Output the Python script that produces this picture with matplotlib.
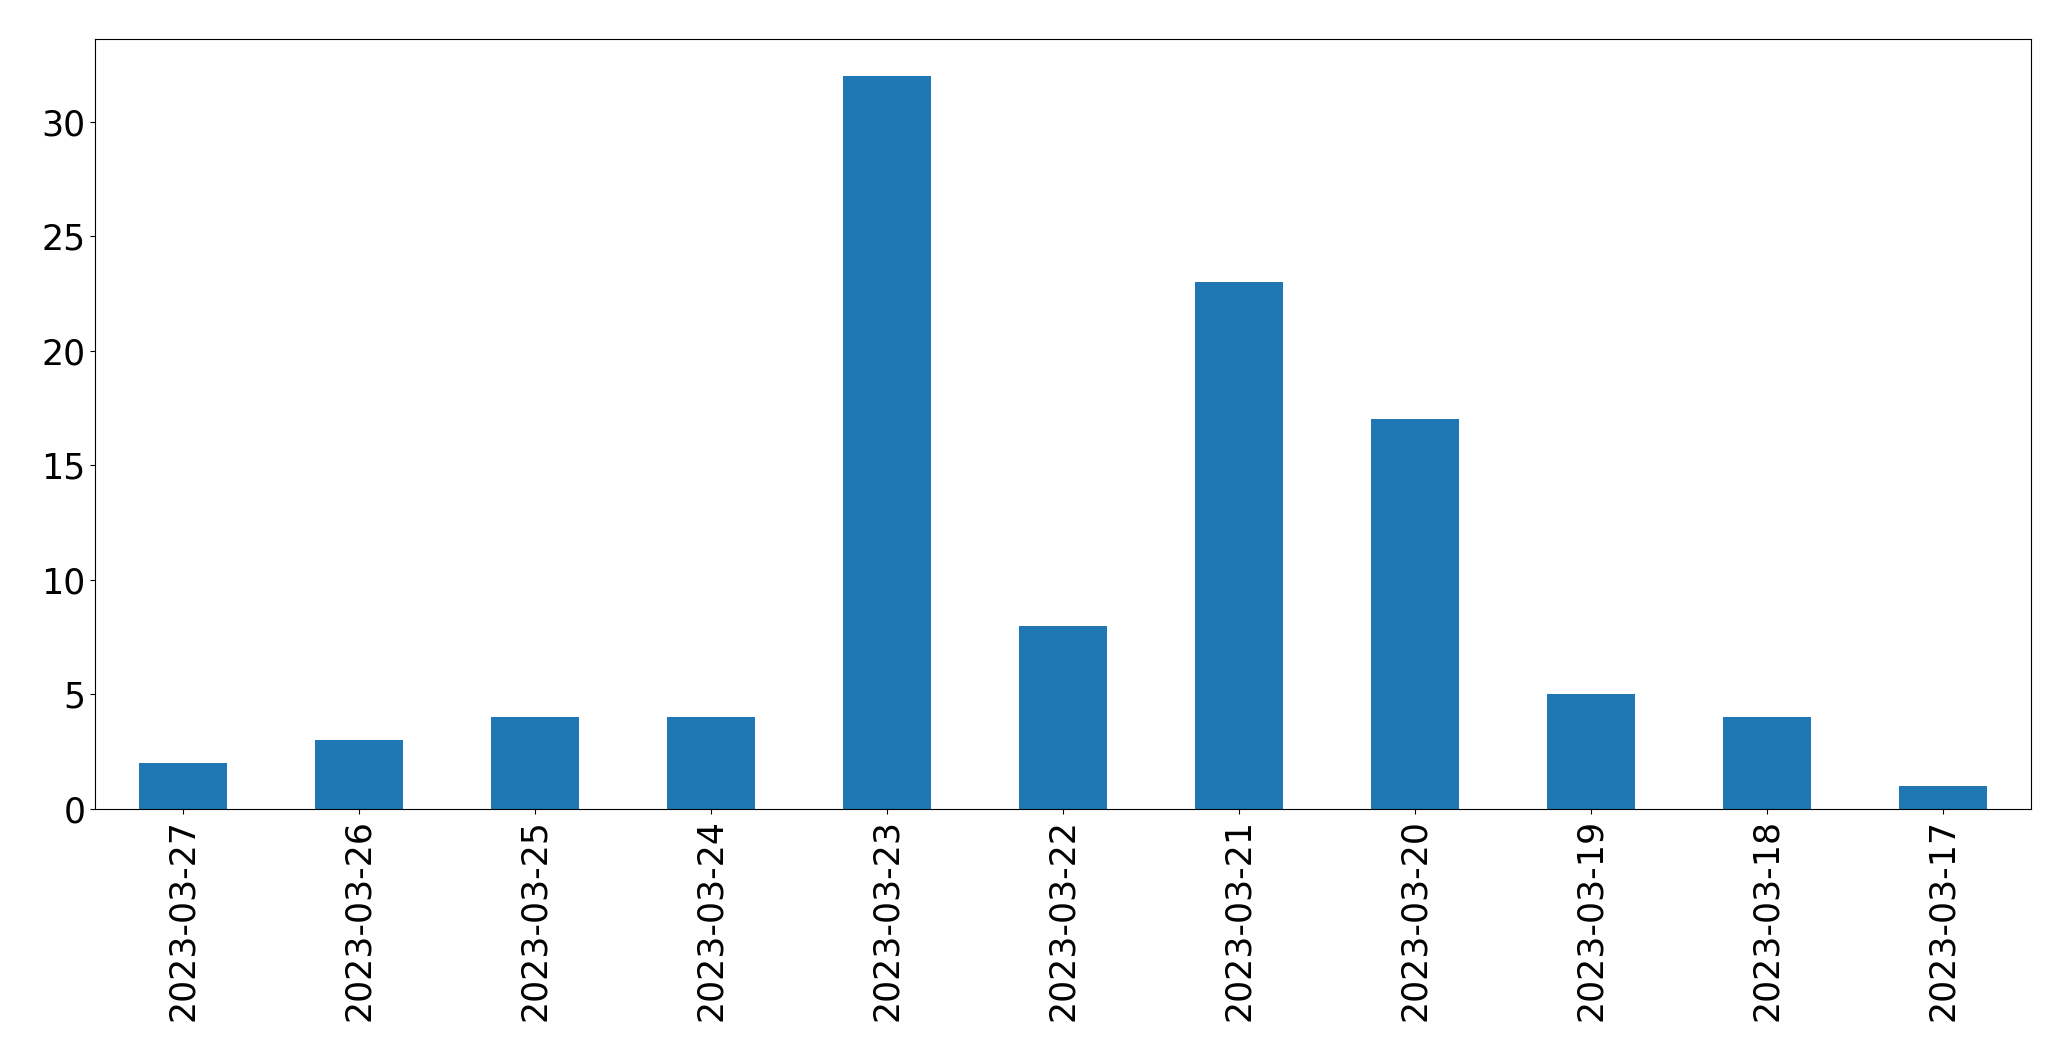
import matplotlib
matplotlib.use("Agg")
import matplotlib.pyplot as plt
import pandas as pd

dates = ["2023-03-27", "2023-03-26", "2023-03-25", "2023-03-24", "2023-03-23",
         "2023-03-22", "2023-03-21", "2023-03-20", "2023-03-19", "2023-03-18",
         "2023-03-17"]
counts = [2, 3, 4, 4, 32, 8, 23, 17, 5, 4, 1]

series = pd.Series(counts, index=dates)

fig = plt.figure(figsize=(20.71, 10.61), dpi=100)
ax = fig.add_axes([95 / 2071, 1 - 809 / 1061, (2031 - 95) / 2071, (809 - 39) / 1061])
series.plot(kind="bar", ax=ax, color="#1f77b4", fontsize=25)
ax.tick_params(axis="x", labelrotation=90)

fig.savefig("out.png", dpi=100)
